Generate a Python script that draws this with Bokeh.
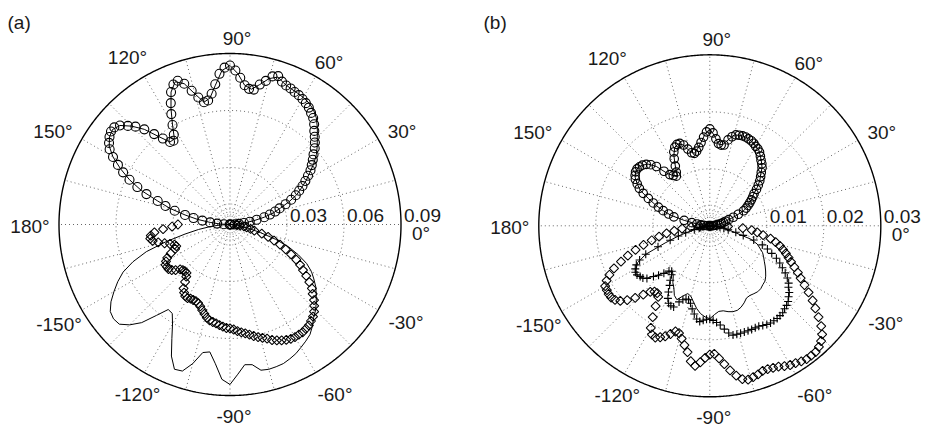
import numpy as np
from bokeh.plotting import figure
from bokeh.layouts import row
from bokeh.models import Range1d
from bokeh.embed import file_html
from bokeh.resources import INLINE
from bokeh.core.properties import value

# ---------------- data ----------------
# solid curves sampled every 3 degrees, marker series every 2 degrees
theta_up = list(range(0, 181, 3))
theta_dn = list(range(0, -181, -3))
theta2_up = list(range(0, 181, 2))
theta2_dn = list(range(0, -181, -2))

# ---- panel (a)
a_line_up = [0, 0.0037, 0.0074, 0.0126, 0.0184, 0.0237, 0.0279, 0.0332, 0.0384, 0.0421,
             0.0463, 0.0500, 0.0545, 0.0585, 0.0618, 0.0650, 0.0687, 0.0722, 0.0747, 0.0763,
             0.0772, 0.0778, 0.0784, 0.0795, 0.0816, 0.0795, 0.0753, 0.0721, 0.0737, 0.0795,
             0.0837, 0.0811, 0.0737, 0.0674, 0.0658, 0.0711, 0.0779, 0.0805, 0.0763, 0.0684,
             0.0605, 0.0537, 0.0537, 0.0595, 0.0674, 0.0732, 0.0779, 0.0795, 0.0784, 0.0758,
             0.0711, 0.0647, 0.0579, 0.0500, 0.0400, 0.0326, 0.0242, 0.0174, 0.0105, 0.0053, 0]
a_line_dn = [0, 0.0021, 0.0042, 0.0068, 0.0105, 0.0168, 0.0253, 0.0332, 0.0395, 0.0453,
             0.0495, 0.0526, 0.0558, 0.0584, 0.0611, 0.0637, 0.0658, 0.0689, 0.0716, 0.0732,
             0.0747, 0.0763, 0.0774, 0.0784, 0.0787, 0.0789, 0.0784, 0.0747, 0.0742, 0.0789,
             0.0842, 0.0816, 0.0737, 0.0679, 0.0689, 0.0758, 0.0811, 0.0816, 0.0758, 0.0674,
             0.0605, 0.0558, 0.0553, 0.0616, 0.0695, 0.0747, 0.0784, 0.0789, 0.0779, 0.0747,
             0.0705, 0.0663, 0.0616, 0.0547, 0.0463, 0.0347, 0.0242, 0.0168, 0.0105, 0.0053, 0]
a_circle = [0, 0.0026, 0.0047, 0.0074, 0.0105, 0.0142, 0.0184, 0.0216, 0.0247, 0.0274,
            0.0311, 0.0347, 0.0379, 0.0405, 0.0432, 0.0458, 0.0484, 0.0511, 0.0532, 0.0553,
            0.0574, 0.0600, 0.0621, 0.0642, 0.0663, 0.0689, 0.0711, 0.0726, 0.0742, 0.0753,
            0.0763, 0.0771, 0.0776, 0.0784, 0.0789, 0.0800, 0.0821, 0.0811, 0.0779, 0.0753,
            0.0721, 0.0721, 0.0737, 0.0774, 0.0811, 0.0837, 0.0826, 0.0795, 0.0742, 0.0695,
            0.0663, 0.0658, 0.0689, 0.0732, 0.0779, 0.0805, 0.0795, 0.0763, 0.0711, 0.0658,
            0.0605, 0.0558, 0.0532, 0.0537, 0.0574, 0.0621, 0.0674, 0.0716, 0.0747, 0.0779,
            0.0795, 0.0795, 0.0784, 0.0768, 0.0747, 0.0711, 0.0668, 0.0626, 0.0579, 0.0526,
            0.0468, 0.0400, 0.0353, 0.0300, 0.0242, 0.0195, 0.0147, 0.0105, 0.0068, 0.0032, 0]
a_diamond = [0, 0.0016, 0.0037, 0.0053, 0.0074, 0.0089, 0.0111, 0.0132, 0.0174, 0.0211,
             0.0247, 0.0284, 0.0321, 0.0358, 0.0395, 0.0426, 0.0453, 0.0484, 0.0516, 0.0547,
             0.0568, 0.0595, 0.0616, 0.0637, 0.0653, 0.0663, 0.0674, 0.0679, 0.0684, 0.0684,
             0.0684, 0.0682, 0.0676, 0.0668, 0.0658, 0.0647, 0.0632, 0.0621, 0.0611, 0.0600,
             0.0589, 0.0579, 0.0571, 0.0563, 0.0553, 0.0547, 0.0545, 0.0539, 0.0532, 0.0526,
             0.0521, 0.0516, 0.0505, 0.0489, 0.0474, 0.0458, 0.0447, 0.0442, 0.0442, 0.0442,
             0.0447, 0.0445, 0.0432, 0.0416, 0.0384, 0.0358, 0.0342, 0.0342, 0.0345, 0.0353,
             0.0374, 0.0389, 0.0400, 0.0400, 0.0400, 0.0389, 0.0374, 0.0347, 0.0316, 0.0305,
             0.0311, 0.0332, 0.0358, 0.0389, 0.0416, 0.0426, 0.0421, 0.0400, 0.0353, 0.0305, 0.0274]

# ---- panel (b)
b_circle = [0, 0.0004, 0.0007, 0.0011, 0.0014, 0.0018, 0.0021, 0.0025, 0.0029, 0.0035,
            0.0044, 0.0054, 0.0065, 0.0071, 0.0076, 0.0081, 0.0086, 0.0091, 0.0096, 0.0104,
            0.0111, 0.0118, 0.0124, 0.0130, 0.0137, 0.0142, 0.0146, 0.0151, 0.0156, 0.0159,
            0.0161, 0.0164, 0.0166, 0.0167, 0.0168, 0.0168, 0.0167, 0.0166, 0.0161, 0.0154,
            0.0144, 0.0143, 0.0145, 0.0153, 0.0163, 0.0170, 0.0165, 0.0156, 0.0147, 0.0139,
            0.0133, 0.0130, 0.0132, 0.0140, 0.0149, 0.0154, 0.0154, 0.0151, 0.0144, 0.0133,
            0.0121, 0.0111, 0.0105, 0.0109, 0.0114, 0.0125, 0.0140, 0.0149, 0.0155, 0.0159,
            0.0161, 0.0162, 0.0161, 0.0158, 0.0154, 0.0147, 0.0140, 0.0130, 0.0118, 0.0107,
            0.0096, 0.0086, 0.0075, 0.0065, 0.0046, 0.0032, 0.0023, 0.0016, 0.0011, 0.0005, 0]
b_line_up = [0, 0.0005, 0.0011, 0.0016, 0.0021, 0.0026, 0.0035, 0.0049, 0.0065, 0.0074,
             0.0081, 0.0088, 0.0095, 0.0107, 0.0118, 0.0126, 0.0137, 0.0144, 0.0151, 0.0158,
             0.0161, 0.0165, 0.0167, 0.0168, 0.0167, 0.0165, 0.0154, 0.0144, 0.0144, 0.0158,
             0.0170, 0.0161, 0.0147, 0.0137, 0.0130, 0.0135, 0.0149, 0.0154, 0.0151, 0.0139,
             0.0121, 0.0105, 0.0109, 0.0118, 0.0140, 0.0153, 0.0159, 0.0162, 0.0161, 0.0156,
             0.0147, 0.0137, 0.0118, 0.0102, 0.0086, 0.0070, 0.0046, 0.0026, 0.0016, 0.0009, 0]
b_line_dn = [0, 0.0005, 0.0012, 0.0021, 0.0033, 0.0046, 0.0075, 0.0089, 0.0096, 0.0104,
             0.0109, 0.0114, 0.0120, 0.0126, 0.0132, 0.0137, 0.0139, 0.0142, 0.0143, 0.0142,
             0.0141, 0.0142, 0.0148, 0.0153, 0.0156, 0.0156, 0.0154, 0.0151, 0.0151, 0.0156,
             0.0163, 0.0160, 0.0155, 0.0147, 0.0137, 0.0128, 0.0125, 0.0132, 0.0142, 0.0137,
             0.0126, 0.0119, 0.0109, 0.0104, 0.0109, 0.0119, 0.0133, 0.0147, 0.0153, 0.0154,
             0.0149, 0.0142, 0.0123, 0.0084, 0.0058, 0.0035, 0.0019, 0.0014, 0.0009, 0.0004, 0]
b_diamond = [0, 0.0032, 0.0058, 0.0074, 0.0084, 0.0095, 0.0109, 0.0119, 0.0128, 0.0135,
             0.0142, 0.0149, 0.0156, 0.0165, 0.0175, 0.0184, 0.0196, 0.0209, 0.0223, 0.0235,
             0.0249, 0.0263, 0.0274, 0.0281, 0.0286, 0.0289, 0.0289, 0.0289, 0.0287, 0.0284,
             0.0282, 0.0279, 0.0275, 0.0273, 0.0271, 0.0271, 0.0274, 0.0276, 0.0278, 0.0275,
             0.0267, 0.0256, 0.0244, 0.0233, 0.0225, 0.0226, 0.0232, 0.0240, 0.0247, 0.0240,
             0.0225, 0.0214, 0.0204, 0.0196, 0.0195, 0.0202, 0.0209, 0.0214, 0.0218, 0.0216,
             0.0207, 0.0189, 0.0170, 0.0154, 0.0150, 0.0151, 0.0156, 0.0168, 0.0182, 0.0195,
             0.0205, 0.0211, 0.0214, 0.0214, 0.0213, 0.0212, 0.0205, 0.0196, 0.0184, 0.0168,
             0.0153, 0.0137, 0.0121, 0.0105, 0.0091, 0.0077, 0.0063, 0.0049, 0.0033, 0.0018, 0]
b_plus = [0, 0.0004, 0.0007, 0.0012, 0.0018, 0.0025, 0.0033, 0.0047, 0.0061, 0.0081,
          0.0098, 0.0109, 0.0119, 0.0130, 0.0139, 0.0147, 0.0156, 0.0164, 0.0171, 0.0175,
          0.0182, 0.0186, 0.0191, 0.0194, 0.0196, 0.0199, 0.0200, 0.0201, 0.0201, 0.0201,
          0.0200, 0.0198, 0.0196, 0.0196, 0.0196, 0.0196, 0.0196, 0.0196, 0.0196, 0.0196,
          0.0191, 0.0183, 0.0175, 0.0170, 0.0166, 0.0164, 0.0164, 0.0166, 0.0169, 0.0165,
          0.0157, 0.0149, 0.0140, 0.0135, 0.0135, 0.0138, 0.0144, 0.0156, 0.0156, 0.0154,
          0.0147, 0.0137, 0.0126, 0.0118, 0.0109, 0.0104, 0.0107, 0.0116, 0.0125, 0.0133,
          0.0144, 0.0149, 0.0151, 0.0154, 0.0154, 0.0151, 0.0146, 0.0137, 0.0123, 0.0098,
          0.0074, 0.0058, 0.0044, 0.0028, 0.0019, 0.0016, 0.0012, 0.0009, 0.0005, 0.0003, 0]

# radial ticks
a_rmax, a_rings, a_ring_labels = 0.09, [0.03, 0.06], ["0.03", "0.06", "0.09"]
b_rmax, b_rings, b_ring_labels = 0.03, [0.01, 0.02], ["0.01", "0.02", "0.03"]

# angular tick labels
ang_ticks = [0, 30, 60, 90, 120, 150, 180, -150, -120, -90, -60, -30]
ang_labels = ["0°", "30°", "60°", "90°", "120°", "150°", "180°",
              "-150°", "-120°", "-90°", "-60°", "-30°"]

# ---------------- layout constants (pixels) ----------------
R_PX = 171.0
FONT = value("Liberation Sans")
FSIZE = "19px"
TXT = "#1a1a1a"
# label centre offsets from polar centre in px (dx right, dy down)
LBL_OFF = {0: (191, 8.5), 30: (172, -93), 60: (99, -162.5), 90: (7, -186.5),
           120: (-102.5, -167.5), 150: (-177, -93.5), 180: (-200, 1.5),
           -150: (-171, 99.5), -120: (-92.5, 169.5), -90: (4, 191.5),
           -60: (105, 169.5), -30: (176, 97.5)}
H = 427


def pol(r, th):
    r = np.asarray(r, float)
    t = np.deg2rad(np.asarray(th, float))
    return r * np.cos(t), r * np.sin(t)


def panel(W, cx, cy, rmax, rings, ring_labels, tag, tag_x):
    s = rmax / R_PX  # data units per pixel
    p = figure(width=W, height=H, output_backend="svg", toolbar_location=None,
               x_range=Range1d(-cx * s, (W - cx) * s),
               y_range=Range1d(-(H - cy) * s, cy * s), min_border=0)
    p.axis.visible = False
    p.grid.visible = False
    p.outline_line_color = None
    p.background_fill_color = "white"
    p.border_fill_color = "white"

    t = np.linspace(0, 2 * np.pi, 721)
    # spokes every 15 degrees
    xs, ys = [], []
    for a in range(0, 360, 15):
        xx, yy = pol([0, rmax], [a, a])
        xs.append(list(xx)); ys.append(list(yy))
    p.multi_line(xs, ys, line_color="#555555", line_width=0.9, line_dash="1 3")
    # rings
    for rr in rings:
        p.line(rr * np.cos(t), rr * np.sin(t), line_color="#555555", line_width=0.9, line_dash="1 3")
    # small inner rings near origin
    for k, fr in enumerate([0.03, 0.06, 0.09, 0.12]):
        rr = fr * rmax
        if k == 0:
            p.line(rr * np.cos(t), rr * np.sin(t), line_color="#777777", line_width=0.8)
        else:
            p.line(rr * np.cos(t), rr * np.sin(t), line_color="#777777", line_width=0.8, line_dash="1 2")
    # outer circle
    p.line(rmax * np.cos(t), rmax * np.sin(t), line_color="black", line_width=1.4)

    # angle labels
    lx = [LBL_OFF[a][0] * s for a in ang_ticks]
    ly = [-LBL_OFF[a][1] * s for a in ang_ticks]
    p.text(lx, ly, text=ang_labels, text_font=FONT, text_font_size=FSIZE,
           text_align="center", text_baseline="middle", text_color=TXT)
    # radial labels
    rl = list(rings) + [rmax]
    p.text([r + 3 * s for r in rl], [9 * s] * len(rl), text=ring_labels, text_font=FONT,
           text_font_size=FSIZE, text_align="left", text_baseline="alphabetic", text_color=TXT)
    # panel tag
    p.text([(tag_x - cx) * s], [(cy - 22) * s], text=[tag], text_font=FONT, text_font_size=FSIZE,
           text_align="left", text_baseline="middle", text_color=TXT)
    return p, s


# ----- panel (a)  (page x 0..468)
pa, sa = panel(468, 229.5, 224.0, a_rmax, a_rings, a_ring_labels, "(a)", 7)
x, y = pol(a_line_up, theta_up); pa.line(x, y, line_color="black", line_width=1)
x, y = pol(a_line_dn, theta_dn); pa.line(x, y, line_color="black", line_width=1)
x, y = pol(a_circle, theta2_up)
pa.scatter(x, y, marker="circle", size=9, fill_color=None, line_color="black", line_width=1.1)
x, y = pol(a_diamond, theta2_dn)
pa.scatter(x, y, marker="square", angle=np.pi / 4, size=6.4, fill_color=None,
           line_color="black", line_width=1.05)

# ----- panel (b)  (page x 468..927)
pb, sb = panel(459, 241.3, 225.3, b_rmax, b_rings, b_ring_labels, "(b)", 15)
x, y = pol(b_line_up, theta_up); pb.line(x, y, line_color="black", line_width=1)
x, y = pol(b_line_dn, theta_dn); pb.line(x, y, line_color="black", line_width=1)
x, y = pol(b_circle, theta2_up)
pb.scatter(x, y, marker="circle", size=8.5, fill_color=None, line_color="black", line_width=1.15)
x, y = pol(b_diamond, theta2_dn)
pb.scatter(x, y, marker="square", angle=np.pi / 4, size=6.4, fill_color=None,
           line_color="black", line_width=1.05)
x, y = pol(b_plus, theta2_dn)
pb.scatter(x, y, marker="cross", size=8, line_color="black", line_width=1.1)

layout = row(pa, pb)
open("out.html", "w").write(file_html(layout, INLINE))
